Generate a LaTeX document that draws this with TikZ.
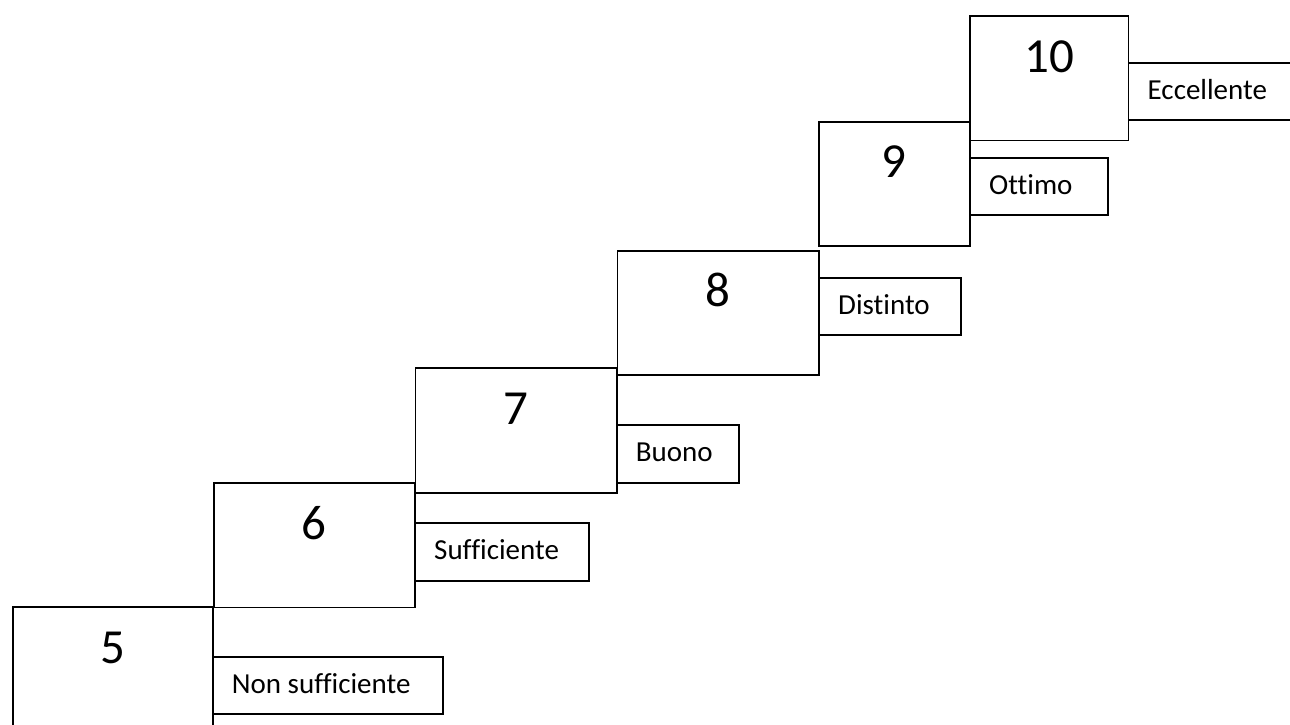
\documentclass[tikz,border=0pt]{standalone}
\usepackage{fontspec}
\setmainfont{Carlito}[Ligatures=NoCommon]
\begin{document}
\begin{tikzpicture}[x=1pt,y=-1pt,
  gbox/.style={draw=black, line width=1.8pt, rectangle, inner sep=0pt, anchor=north west},
  lbox/.style={draw=black, line width=1.8pt, rectangle, inner sep=0pt, anchor=north west},
  num/.style={font=\fontsize{49}{56}\selectfont, inner sep=0pt, anchor=base},
  ltext/.style={font=\fontsize{29}{34}\selectfont, inner sep=0pt, anchor=base west}]
\useasboundingbox (0,0) rectangle (1290,724);
\clip (0,0) rectangle (1290,724);
% grade boxes
\node[gbox, minimum width=200.3pt, minimum height=160pt] (b5) at (11.7,606) {};
\node[gbox, minimum width=201.3pt, minimum height=124.2pt] (b6) at (212.7,482.3) {};
\node[gbox, minimum width=201.2pt, minimum height=124.4pt] (b7) at (414.5,367.3) {};
\node[gbox, minimum width=201.8pt, minimum height=124.6pt] (b8) at (616.5,249.7) {};
\node[gbox, minimum width=151pt, minimum height=124.3pt] (b9) at (818,120.7) {};
\node[gbox, minimum width=158.5pt, minimum height=124.5pt] (b10) at (969,15) {};
% label boxes
\node[lbox, minimum width=230.3pt, minimum height=57pt] (l5) at (211.7,655.7) {};
\node[lbox, minimum width=174pt, minimum height=57.7pt] (l6) at (414,522.3) {};
\node[lbox, minimum width=122.6pt, minimum height=57.7pt] (l7) at (615.7,424) {};
\node[lbox, minimum width=142pt, minimum height=57.3pt] (l8) at (818,276.7) {};
\node[lbox, minimum width=138.3pt, minimum height=57pt] (l9) at (969,157.3) {};
\node[lbox, minimum width=200pt, minimum height=57.3pt] (l10) at (1127.5,61.7) {};
% numbers
\node[num] (n5) at ([yshift=-57pt]b5.north) {5};
\node[num] (n6) at ([yshift=-57pt]b6.north) {6};
\node[num] (n7) at ([yshift=-57pt]b7.north) {7};
\node[num] (n8) at ([yshift=-57pt]b8.north) {8};
\node[num] (n9) at ([yshift=-57pt]b9.north) {9};
\node[num] (n10) at ([yshift=-57pt]b10.north) {10};
% label texts
\node[ltext] (t5) at ([xshift=20pt,yshift=-37.5pt]l5.north west) {Non sufficiente};
\node[ltext] (t6) at ([xshift=20pt,yshift=-37.5pt]l6.north west) {Sufficiente};
\node[ltext] (t7) at ([xshift=20pt,yshift=-37.5pt]l7.north west) {Buono};
\node[ltext] (t8) at ([xshift=20pt,yshift=-37.5pt]l8.north west) {Distinto};
\node[ltext] (t9) at ([xshift=20pt,yshift=-37.5pt]l9.north west) {Ottimo};
\node[ltext] (t10) at ([xshift=20pt,yshift=-37.5pt]l10.north west) {Eccellente};
\end{tikzpicture}
\end{document}
